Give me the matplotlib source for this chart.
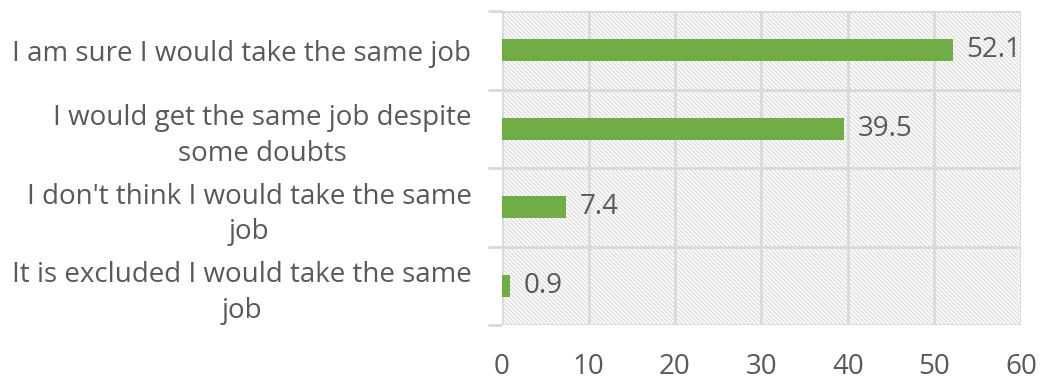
import matplotlib.pyplot as plt
from matplotlib.patches import Rectangle
import numpy as np

categories = [
    "I am sure I would take the same job",
    "I would get the same job despite\nsome doubts",
    "I don't think I would take the same\njob",
    "It is excluded I would take the same\njob",
]
values = [52.1, 39.5, 7.4, 0.9]
xticks = [0, 10, 20, 30, 40, 50, 60]

bar_color = "#70AD47"
grid_color = "#D9D9D9"
text_color = "#595959"

plt.rcParams["font.family"] = ["Open Sans", "DejaVu Sans"]
plt.rcParams["hatch.linewidth"] = 1.0

fig = plt.figure(figsize=(10.4, 3.83), dpi=100)
ax = fig.add_axes([0.4827, 0.1514, 0.4990, 0.8196])

y = np.arange(len(categories))[::-1]
ax.set_xlim(0, 60)
ax.set_ylim(-0.5, len(categories) - 0.5)

# patterned plot area
ax.add_patch(Rectangle((0, 0), 1, 1, transform=ax.transAxes, facecolor="white",
                       edgecolor="#DEDEDE", hatch="\\" * 8, linewidth=0, zorder=0))

for xt in xticks:
    ax.axvline(xt, color=grid_color, linewidth=2, zorder=1)
for b in np.arange(-0.5, len(categories), 1.0):
    ax.axhline(b, color=grid_color, linewidth=2, zorder=1)

ax.barh(y, values, height=0.28, color=bar_color, zorder=2)
for yi, v in zip(y, values):
    ax.text(v + 1.6, yi, f"{v}", va="center", ha="left", fontsize=20,
            color=text_color, zorder=3)

ax.set_xticks(xticks)
ax.set_xticklabels([str(t) for t in xticks], fontsize=20, color=text_color)
ax.set_yticks(y)
ax.set_yticklabels(categories, fontsize=20, color=text_color,
                   multialignment="center", linespacing=1.35)
ax.tick_params(axis="y", length=0, pad=22)
ax.tick_params(axis="x", length=0, pad=20)
ax.set_yticks(np.arange(-0.5, len(categories), 1.0), minor=True)
ax.tick_params(axis="y", which="minor", length=10, width=2, color=grid_color)

for s in ax.spines.values():
    s.set_visible(False)

fig.savefig("out.png", dpi=100)
